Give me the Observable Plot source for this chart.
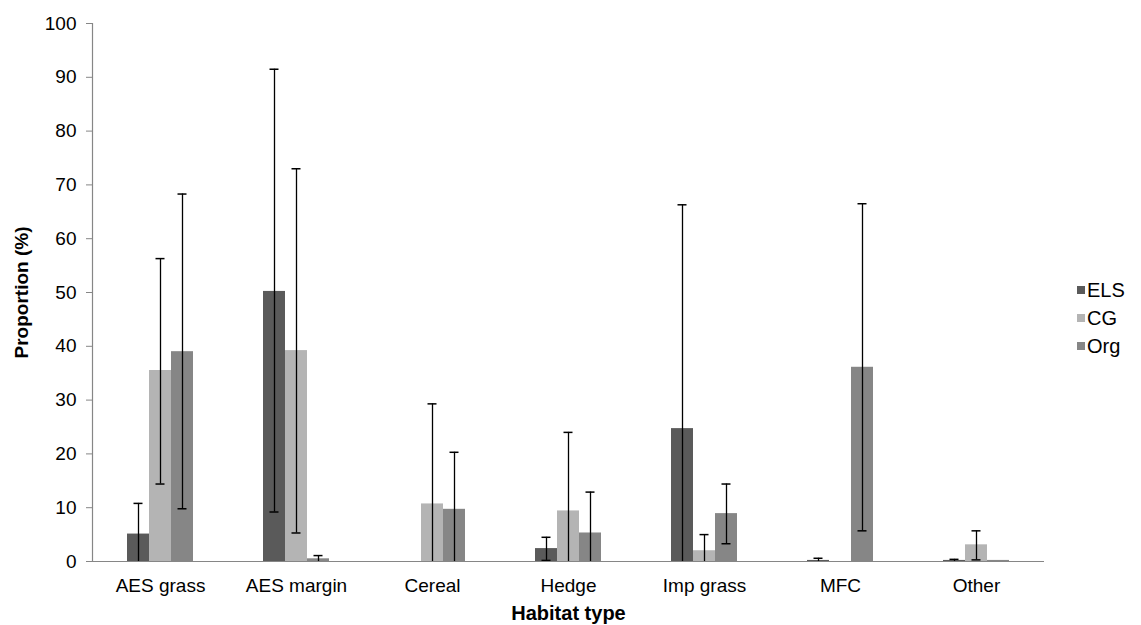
<!DOCTYPE html>
<html>
<head>
<meta charset="utf-8">
<script src="https://cdn.jsdelivr.net/npm/d3@7"></script>
<script src="https://cdn.jsdelivr.net/npm/@observablehq/plot@0.6"></script>
<style>
  body { margin: 0; background: #fff; font-family: "Liberation Sans", Arial, sans-serif; }
  #wrap { position: relative; width: 1141px; height: 625px; overflow: hidden; }
  #legend { position: absolute; left: 1077px; top: 276px; font-size: 20px; color: #000; }
  .row { display: flex; align-items: center; height: 28px; }
  .sw { width: 8px; height: 8px; margin-right: 2px; }
  g[aria-label="y-axis label"] text { font-weight: bold; font-size: 19px; }
  g[aria-label="fx-axis label"] text { font-weight: bold; font-size: 20px; }
</style>
</head>
<body>
<div id="wrap">
  <div id="chart"></div>
  <div id="legend"></div>
</div>
<script>
const habitats = ["AES grass", "AES margin", "Cereal", "Hedge", "Imp grass", "MFC", "Other"];
const series = ["ELS", "CG", "Org"];
const colors = ["#5a5a5a", "#b4b4b4", "#868686"];

// mean proportions (%)
const meanELS = [5.1, 50.2, 0, 2.4, 24.7, 0.2, 0.2];
const meanCG  = [35.5, 39.2, 10.7, 9.4, 2.0, 0, 3.1];
const meanOrg = [39.0, 0.5, 9.7, 5.3, 8.9, 36.1, 0.2];

// error bar upper ends
const upperELS = [10.8, 91.5, null, 4.5, 66.3, 0.6, 0.4];
const upperCG  = [56.3, 73.0, 29.3, 24.0, 5.0, null, 5.7];
const upperOrg = [68.3, 1.1, 20.3, 12.9, 14.4, 66.5, null];

// error bar lower ends (0 = clipped at axis)
const lowerELS = [0, 9.2, null, 0.2, 0, 0, 0];
const lowerCG  = [14.4, 5.3, 0, 0, 0, null, 0.3];
const lowerOrg = [9.8, 0, 0, 0, 3.3, 5.7, null];

const means = [meanELS, meanCG, meanOrg];
const uppers = [upperELS, upperCG, upperOrg];
const lowers = [lowerELS, lowerCG, lowerOrg];

const rows = [];
habitats.forEach((h, i) => {
  series.forEach((s, j) => {
    rows.push({habitat: h, series: s, mean: means[j][i], upper: uppers[j][i], lower: lowers[j][i]});
  });
});
const errRows = rows.filter(d => d.upper != null);
const lowCapRows = errRows.filter(d => d.lower > 0);

const chart = Plot.plot({
  width: 1141,
  height: 625,
  marginLeft: 90,
  marginRight: 96,
  marginTop: 23,
  marginBottom: 64,
  style: {fontFamily: "Liberation Sans, Arial, sans-serif", fontSize: "19px", color: "#000", background: "#fff"},
  fx: {domain: habitats, padding: 0, label: null},
  x: {domain: series, paddingInner: 0, paddingOuter: 1.5, axis: null},
  y: {domain: [0, 100], ticks: d3.range(0, 101, 10)},
  color: {domain: series, range: colors},
  marks: [
    Plot.barY(rows, {fx: "habitat", x: "series", y: "mean", fill: "series", inset: 0}),
    Plot.ruleX(errRows, {fx: "habitat", x: "series", y1: "lower", y2: "upper", stroke: "#000", strokeWidth: 1.3}),
    Plot.tickY(errRows, {fx: "habitat", x: "series", y: "upper", stroke: "#000", strokeWidth: 1.5, insetLeft: 6.5, insetRight: 6.5}),
    Plot.tickY(lowCapRows, {fx: "habitat", x: "series", y: "lower", stroke: "#000", strokeWidth: 1.5, insetLeft: 6.5, insetRight: 6.5}),
    Plot.ruleY([0], {stroke: "#868686", strokeWidth: 1.2}),
    Plot.frame({anchor: "left", facetAnchor: "left", stroke: "#868686", strokeWidth: 1.2}),
    Plot.axisY({ticks: d3.range(0, 101, 10), tickSize: 6, tickPadding: 10, stroke: "#868686",
      label: "Proportion (%)", labelAnchor: "center", labelOffset: 78, labelArrow: "none"}),
    Plot.axisFx({anchor: "bottom", tickSize: 0, tickPadding: 17, label: "Habitat type",
      labelAnchor: "center", labelOffset: 58, labelArrow: "none"})
  ]
});
document.getElementById("chart").appendChild(chart);

const legend = document.getElementById("legend");
series.forEach((s, j) => {
  const row = document.createElement("div");
  row.className = "row";
  const sw = document.createElement("div");
  sw.className = "sw";
  sw.style.background = colors[j];
  const t = document.createElement("span");
  t.textContent = s;
  row.appendChild(sw);
  row.appendChild(t);
  legend.appendChild(row);
});
</script>
</body>
</html>
